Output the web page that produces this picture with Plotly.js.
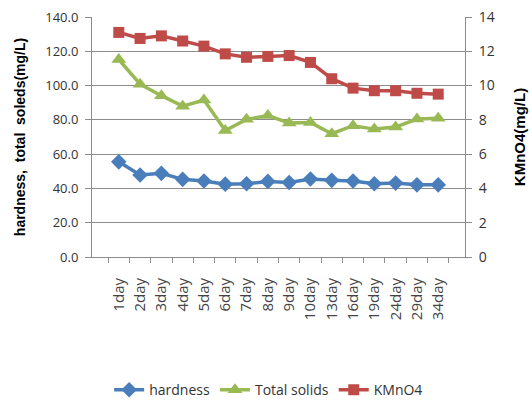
<!DOCTYPE html>
<html>
<head>
<meta charset="utf-8">
<script src="https://cdn.plot.ly/plotly-3.0.1.min.js"></script>
<style>
  html, body { margin: 0; padding: 0; background: #fff; }
  #chart { width: 532px; height: 401px; }
</style>
</head>
<body>
<div id="chart"></div>
<script>
// Sampling days
const days = ["1day", "2day", "3day", "4day", "5day", "6day", "7day", "8day",
              "9day", "10day", "13day", "16day", "19day", "24day", "29day", "34day"];

// Left axis series (mg/L)
const hardness = [55.5, 47.8, 48.8, 45.3, 44.3, 42.5, 42.7, 44.1,
                  43.5, 45.5, 44.7, 44.3, 42.7, 43.1, 42.1, 42.1];
const totalSolids = [115.2, 100.8, 94.1, 88.0, 91.6, 73.8, 80.3, 82.5,
                     78.2, 78.5, 71.9, 76.6, 74.6, 75.8, 80.5, 81.0];

// Right axis series (mg/L)
const kmno4 = [13.1, 12.75, 12.9, 12.6, 12.3, 11.85, 11.65, 11.7,
               11.75, 11.35, 10.4, 9.85, 9.7, 9.7, 9.55, 9.5];

// Axis tick values
const leftTicks = [0, 20, 40, 60, 80, 100, 120, 140];
const rightTicks = [0, 2, 4, 6, 8, 10, 12, 14];

const baseFont = "'Open Sans', 'Noto Sans', sans-serif";
const titleFont = "'Liberation Sans', Arial, sans-serif";
const gridGray = "#8c8c8c";

const traces = [
  {
    x: days, y: hardness, name: "hardness", type: "scatter", mode: "lines+markers",
    line: { color: "#4a7ebb", width: 3.5 },
    marker: { symbol: "diamond", size: 12, color: "#4a7ebb" },
    yaxis: "y"
  },
  {
    x: days, y: totalSolids, name: "Total solids", type: "scatter", mode: "lines+markers",
    line: { color: "#98b954", width: 3.5 },
    marker: { symbol: "triangle-up", size: 13, color: "#98b954" },
    yaxis: "y"
  },
  {
    x: days, y: kmno4, name: "KMnO4", type: "scatter", mode: "lines+markers",
    line: { color: "#be4b48", width: 3.5 },
    marker: { symbol: "square", size: 11, color: "#be4b48" },
    yaxis: "y2"
  }
];

const layout = {
  width: 532,
  height: 401,
  margin: { l: 92, r: 67, t: 17, b: 144, autoexpand: false },
  paper_bgcolor: "#ffffff",
  plot_bgcolor: "#ffffff",
  font: { family: baseFont, size: 13, color: "#333333" },
  showlegend: true,
  legend: {
    orientation: "h",
    xref: "container",
    yref: "container",
    x: 0.505, xanchor: "center",
    y: 0.027, yanchor: "middle",
    font: { family: baseFont, size: 14, color: "#333333" },
    itemwidth: 30,
    tracegroupgap: 0
  },
  xaxis: {
    type: "category",
    automargin: false,
    tickangle: -90,
    tickson: "boundaries",
    ticks: "outside",
    ticklen: 5,
    tickcolor: gridGray,
    showline: true,
    linecolor: gridGray,
    linewidth: 1,
    showgrid: false,
    zeroline: false,
    tickfont: { family: baseFont, size: 15, color: "#444444" },
    ticklabelstandoff: 14
  },
  yaxis: {
    automargin: false,
    range: [0, 140],
    tickvals: leftTicks,
    tickformat: ".1f",
    ticks: "outside",
    ticklen: 6,
    tickcolor: gridGray,
    showline: true,
    linecolor: gridGray,
    showgrid: true,
    gridcolor: gridGray,
    gridwidth: 1,
    zeroline: false,
    tickfont: { family: baseFont, size: 13, color: "#333333" },
    ticklabelstandoff: 4,
    title: {
      text: "hardness,\u00a0\u00a0total\u00a0\u00a0soleds(mg/L)",
      font: { family: titleFont, size: 14, color: "#000000", weight: "bold" },
      standoff: 16
    }
  },
  yaxis2: {
    automargin: false,
    overlaying: "y",
    side: "right",
    range: [0, 14],
    tickvals: rightTicks,
    ticks: "outside",
    ticklen: 6,
    tickcolor: gridGray,
    showline: true,
    linecolor: gridGray,
    showgrid: false,
    zeroline: false,
    tickfont: { family: baseFont, size: 14, color: "#333333" },
    ticklabelstandoff: 4,
    title: {
      text: "KMnO4(mg/L)",
      font: { family: titleFont, size: 15, color: "#000000", weight: "bold" },
      standoff: 20
    }
  }
};

Plotly.newPlot("chart", traces, layout, { displayModeBar: false, staticPlot: true });
</script>
</body>
</html>
